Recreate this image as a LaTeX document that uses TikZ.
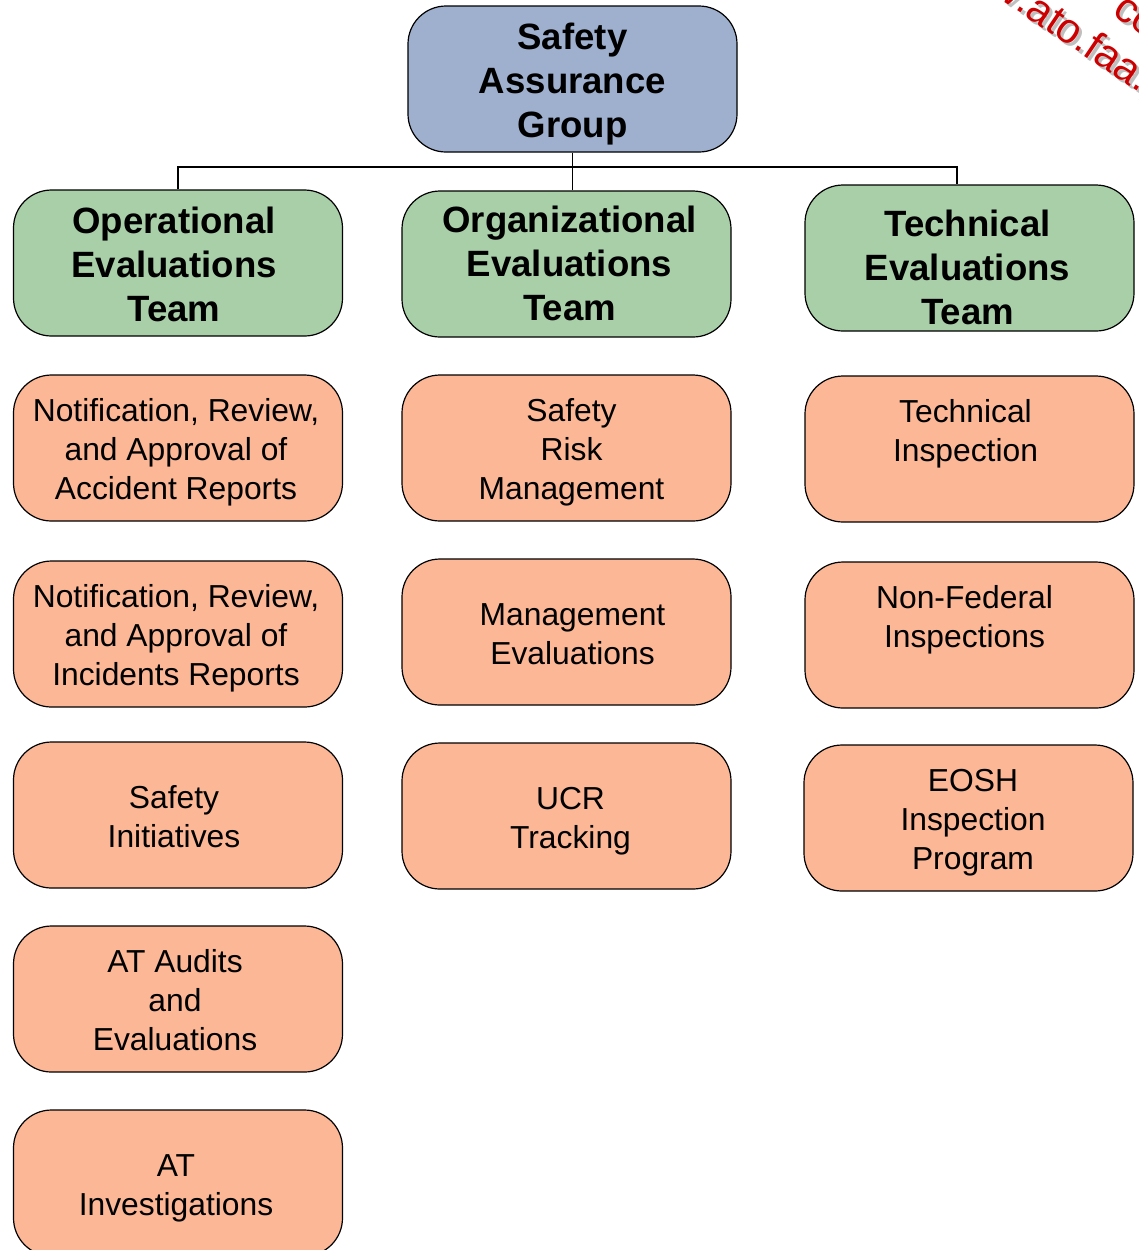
\documentclass[tikz,border=0pt]{standalone}
\usepackage{fontspec}
\setmainfont{Liberation Sans}
\definecolor{topblue}{RGB}{158,176,206}
\definecolor{teamgreen}{RGB}{169,207,169}
\definecolor{taskorange}{RGB}{252,183,150}
\definecolor{wmred}{RGB}{204,0,0}
\begin{document}
\begin{tikzpicture}[x=0.5pt,y=-0.5pt,
  box/.style={draw=black, line width=0.6pt, rounded corners=19pt,
    minimum width=164.5pt, minimum height=73pt, inner sep=0pt},
  topbox/.style={box, fill=topblue},
  teambox/.style={box, fill=teamgreen},
  taskbox/.style={box, fill=taskorange},
  headtext/.style={inner sep=0pt, align=center, font=\fontsize{18.3pt}{22pt}\selectfont\bfseries},
  tasktext/.style={inner sep=0pt, align=center, font=\fontsize{15.9pt}{19.5pt}\selectfont},
  link/.style={draw=black, line width=0.6pt},
  wm/.style={font=\fontsize{21pt}{21pt}\selectfont, rotate=-34, anchor=base, inner sep=0pt}
]
\useasboundingbox (0,0) rectangle (1139,1250);
\clip (0,0) rectangle (1139,1250);

% top
\node[topbox] (top) at (572.5,79) {};
\node[headtext] (topt) at ([shift={(0,5)}]top.center) {Safety\\Assurance\\Group};

% teams
\node[teambox] (gL) at (178,263) {};
\node[headtext] (gLt) at ([shift={(-4,1)}]gL.center) {Operational\\Evaluations\\Team};
\node[teambox] (gM) at (566.5,264) {};
\node[headtext] (gMt) at ([shift={(3,-1)}]gM.center) {Organizational\\Evaluations\\Team};
\node[teambox] (gR) at (969.5,258) {};
\node[headtext] (gRt) at ([shift={(-2,9)}]gR.center) {Technical\\Evaluations\\Team};

% connectors
\coordinate (bus) at (572,167);
\coordinate (rdrop) at (957,167);
\draw[link] (top.south) -- (top.south |- gM.north);
\draw[link] (gL.north) -- (gL.north |- bus) -- (rdrop) -- (rdrop |- gR.north);

% left column
\node[taskbox] (l1) at (178,448) {};
\node[tasktext] (l1t) at ([shift={(-2,4)}]l1.center) {Notification, Review,\\and Approval of\\Accident Reports};
\node[taskbox] (l2) at (178,634) {};
\node[tasktext] (l2t) at ([shift={(-2,4)}]l2.center) {Notification, Review,\\and Approval of\\Incidents Reports};
\node[taskbox] (l3) at (178,815) {};
\node[tasktext] (l3t) at ([shift={(-4,2)}]l3.center) {Safety\\Initiatives};
\node[taskbox] (l4) at (178,999) {};
\node[tasktext] (l4t) at ([shift={(-3,1.5)}]l4.center) {AT Audits\\and\\Evaluations};
\node[taskbox] (l5) at (178,1183) {};
\node[tasktext] (l5t) at ([shift={(-2,5)}]l5.center) {AT\\Investigations};

% middle column
\node[taskbox] (m1) at (566.5,448) {};
\node[tasktext] (m1t) at ([shift={(5,4)}]m1.center) {Safety\\Risk\\Management};
\node[taskbox] (m2) at (566.5,632) {};
\node[tasktext] (m2t) at ([shift={(6,2)}]m2.center) {Management\\Evaluations};
\node[taskbox] (m3) at (566.5,816) {};
\node[tasktext] (m3t) at ([shift={(4,5)}]m3.center) {UCR\\Tracking};

% right column
\node[taskbox] (r1) at (969.5,449) {};
\node[tasktext] (r1t) at ([shift={(-4,-15.5)}]r1.center) {Technical\\Inspection};
\node[taskbox] (r2) at (969.5,635) {};
\node[tasktext] (r2t) at ([shift={(-5,-15.5)}]r2.center) {Non-Federal\\Inspections};
\node[taskbox] (r3) at (968.5,818) {};
\node[tasktext] (r3t) at ([shift={(4.5,4.5)}]r3.center) {EOSH\\Inspection\\Program};

% watermark fragment
\node[wm, text=black!25] (wmshadow) at (1080,54) {\llap{w}.ato.faa.\rlap{gov}};
\node[wm, text=wmred] (wmtext) at (1077,51) {\llap{w}.ato.faa.\rlap{gov}};
\node[wm, text=black!25] (wmshadow2) at (1123,23) {c\rlap{o}};
\node[wm, text=wmred] (wmtext2) at (1120,20) {c\rlap{o}};
\end{tikzpicture}
\end{document}
